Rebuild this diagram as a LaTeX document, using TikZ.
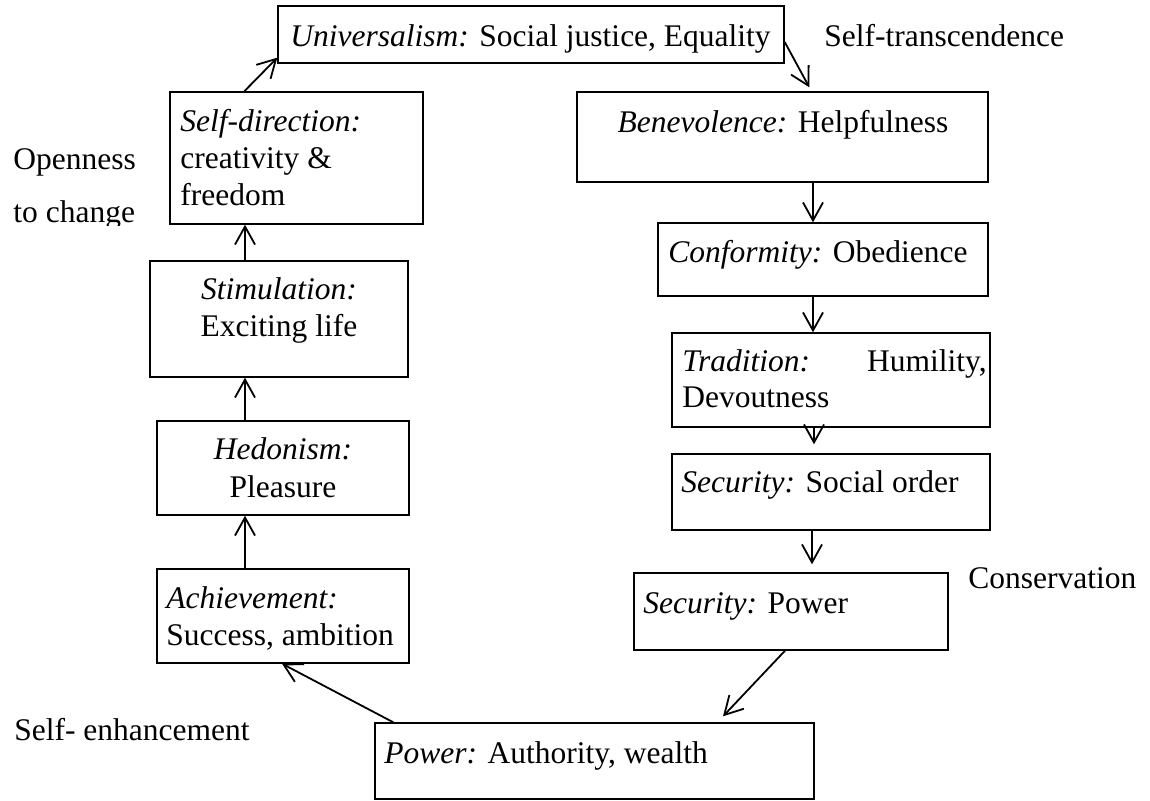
\documentclass[tikz,border=0pt]{standalone}
\usepackage{fontspec}
\setmainfont{Liberation Serif}
\usetikzlibrary{arrows.meta,fit}
\begin{document}
\begin{tikzpicture}[x=0.5pt,y=-0.5pt,
  font=\fontsize{15.75}{18}\selectfont,
  box/.style={draw, line width=0.7pt, inner sep=0pt, rectangle},
  txt/.style={inner sep=0pt, anchor=base west},
  ctxt/.style={inner sep=0pt, anchor=base},
  rtxt/.style={inner sep=0pt, anchor=base east},
  arr/.style={line width=0.9pt, -{Straight Barb[length=9pt,width=10pt,line width=0.9pt]}}]
\useasboundingbox (0,0) rectangle (1150,801);

% value boxes
\node[box, fit={(278,6) (784,63)}]   (u)  {};
\node[box, fit={(170,92) (423,224)}] (sd) {};
\node[box, fit={(577,92) (988,182)}] (be) {};
\node[box, fit={(150,261) (408,377)}] (st) {};
\node[box, fit={(157,421) (409,515)}] (he) {};
\node[box, fit={(157,569) (409,663)}] (ac) {};
\node[box, fit={(658,223) (988,296)}] (co) {};
\node[box, fit={(672,333) (990,427)}] (tr) {};
\node[box, fit={(672,454) (990,530)}] (ss) {};
\node[box, fit={(634,573) (948,650)}] (sp) {};
\node[box, fit={(375,723) (814,799)}] (po) {};

% box texts
\node[txt] (ut) at (290,47) {\textit{Universalism:} Social justice, Equality};
\node[txt] (sd1) at (180,132) {\textit{Self-direction:}};
\node[txt] (sd2) at (180,169) {creativity \&};
\node[txt] (sd3) at (180,206) {freedom};
\node[ctxt] (bet) at (783,133) {\textit{Benevolence:} Helpfulness};
\node[ctxt] (st1) at (279,300) {\textit{Stimulation:}};
\node[ctxt] (st2) at (279,337) {Exciting life};
\node[ctxt] (he1) at (283,460) {\textit{Hedonism:}};
\node[ctxt] (he2) at (283,497) {Pleasure};
\node[txt] (ac1) at (166,608) {\textit{Achievement:}};
\node[txt] (ac2) at (166,645) {Success, ambition};
\node[txt] (cot) at (668,263) {\textit{Conformity:} Obedience};
\node[txt] (tr1) at (682,372) {\textit{Tradition:}};
\node[rtxt] (tr2) at (987,372) {Humility,};
\node[txt] (tr3) at (682,408) {Devoutness};
\node[txt] (sst) at (681,493) {\textit{Security:} Social order};
\node[txt] (spt) at (643,613) {\textit{Security:} Power};
\node[txt] (pot) at (384,763) {\textit{Power:} Authority, wealth};

% dimension labels
\node[txt] (trans) at (824,47) {Self-transcendence};
\node[txt] (cons) at (968,588) {Conservation};
\node[rtxt] (enh) at (250,740) {Self- enhancement};
\node[txt] (open1) at (13,170) {Openness};
\begin{scope}
  \clip (0,0) rectangle (165,226);
  \node[txt] (open2) at (13,223) {to change};
\end{scope}

% connectors
\draw[arr] ([xshift=37.5pt]sd.north west) -- ([yshift=3pt]u.south west);
\draw[arr] ([yshift=-3.75pt]u.east) -- ([xshift=116.5pt,yshift=2pt]be.north west);
\draw[arr] ([xshift=15.25pt]be.south) -- ([xshift=15.25pt]be.south |- co.north);
\draw[arr] ([xshift=-5pt]co.south) -- ([xshift=-5pt]co.south |- tr.north);
\draw[arr] ([xshift=-8.5pt]tr.south) -- ([xshift=-8.5pt,yshift=4.5pt]ss.north);
\draw[arr] ([xshift=-9.5pt]ss.south) -- ([xshift=10.5pt,yshift=4pt]sp.north);
\draw[arr] ([xshift=-3pt]sp.south) -- ([xshift=64.25pt,yshift=3pt]po.north);
\draw[arr] ([xshift=9.5pt]po.north west) -- ([xshift=-0.5pt]ac.south);
\draw[arr] ([xshift=-19pt]ac.north) -- ([xshift=-19pt]ac.north |- he.south);
\draw[arr] ([xshift=-19pt]he.north) -- ([xshift=-19pt]he.north |- st.south);
\draw[arr] ([xshift=-17pt]st.north) -- ([xshift=-17pt]st.north |- sd.south);
\end{tikzpicture}
\end{document}
